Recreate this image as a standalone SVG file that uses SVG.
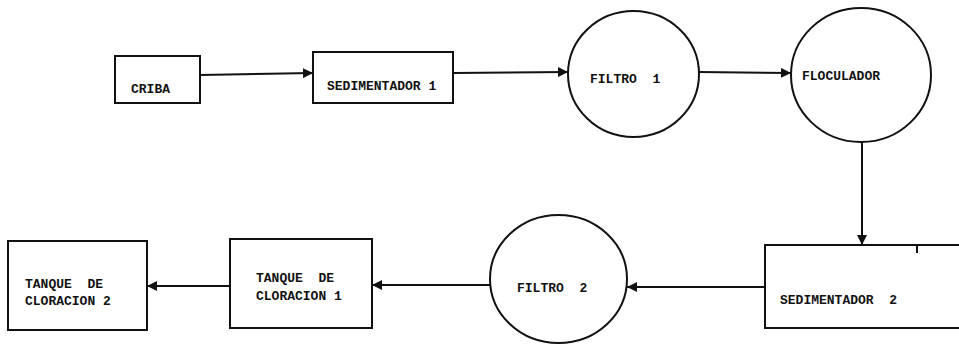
<svg xmlns="http://www.w3.org/2000/svg" width="959" height="344" viewBox="0 0 959 344">
<style>
.n{fill:none;stroke:#111;stroke-width:2}
.c{fill:none;stroke:#111;stroke-width:2}
text{font-family:"Liberation Mono","DejaVu Sans Mono",monospace;font-size:13px;font-weight:bold;fill:#111}
</style>
<defs>
<marker id="ah" viewBox="0 0 10 10" refX="10" refY="5" markerWidth="5" markerHeight="5" orient="auto" markerUnits="strokeWidth">
<path d="M0,0 L10,5 L0,10 z" fill="#111"/>
</marker>
</defs>
<rect width="959" height="344" fill="#fff"/>
<g id="criba"><rect class="n" x="115" y="56" width="85" height="47"/><text x="131" y="93">CRIBA</text></g>
<g id="sedimentador1"><rect class="n" x="313" y="52" width="140" height="51"/><text x="327" y="90">SEDIMENTADOR 1</text></g>
<g id="filtro1"><ellipse class="n" cx="633.5" cy="74" rx="65.5" ry="63"/><text x="590" y="83" xml:space="preserve">FILTRO  1</text></g>
<g id="floculador"><ellipse class="n" cx="861" cy="75" rx="70" ry="67"/><text x="802" y="80">FLOCULADOR</text></g>
<g id="sedimentador2"><path class="n" d="M961,245 L765,245 L765,328 L961,328"/><path class="n" d="M917,245 L917,253"/><text x="780" y="304" xml:space="preserve">SEDIMENTADOR  2</text></g>
<g id="filtro2"><ellipse class="n" cx="558.5" cy="279" rx="68.5" ry="64"/><text x="517" y="292" xml:space="preserve">FILTRO  2</text></g>
<g id="tanque1"><rect class="n" x="230" y="239" width="142" height="89"/><text x="256" y="282" xml:space="preserve">TANQUE  DE</text><text x="256" y="300">CLORACION 1</text></g>
<g id="tanque2"><rect class="n" x="8" y="241" width="139" height="89"/><text x="25" y="288" xml:space="preserve">TANQUE  DE</text><text x="25" y="305">CLORACION 2</text></g>
<g id="connectors">
<path class="c" d="M200,75 L313,73" marker-end="url(#ah)"/>
<path class="c" d="M453,73 L568,72" marker-end="url(#ah)"/>
<path class="c" d="M699,72 L791,73" marker-end="url(#ah)"/>
<path class="c" d="M862,142 L862,245" marker-end="url(#ah)"/>
<path class="c" d="M765,287 L627,287" marker-end="url(#ah)"/>
<path class="c" d="M490,285 L372,285" marker-end="url(#ah)"/>
<path class="c" d="M230,286 L147,286" marker-end="url(#ah)"/>
</g>
</svg>
